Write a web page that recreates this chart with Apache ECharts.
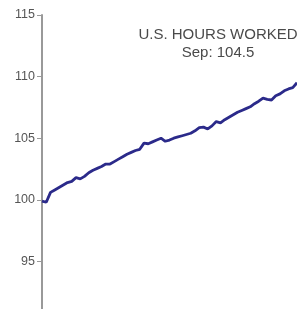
<!DOCTYPE html>
<html>
<head>
<meta charset="utf-8">
<script src="https://cdn.jsdelivr.net/npm/echarts@6/dist/echarts.min.js"></script>
<style>
  html, body { margin: 0; padding: 0; background: #fff; overflow: hidden; }
  /* taller than the window so the axis runs off the bottom like the original */
  #chart { width: 297px; height: 323px; }
</style>
</head>
<body>
<div id="chart"></div>
<script>
// index level (monthly)
const hoursIndex = [
  99.9, 99.8, 100.6, 100.8, 101.0, 101.2, 101.4, 101.5, 101.8, 101.7,
  101.9, 102.2, 102.4, 102.55, 102.7, 102.9, 102.9, 103.1, 103.3, 103.5,
  103.7, 103.85, 104.0, 104.1, 104.6, 104.55, 104.7, 104.85, 105.0, 104.75,
  104.85, 105.0, 105.1, 105.2, 105.3, 105.4, 105.6, 105.85, 105.9, 105.75,
  106.0, 106.35, 106.25, 106.5, 106.7, 106.9, 107.1, 107.25, 107.4, 107.55,
  107.8, 108.0, 108.25, 108.15, 108.1, 108.45, 108.6, 108.85, 109.0, 109.1,
  109.5
]
const months = hoursIndex.map((v, i) => 'M' + i)
const titleText = 'U.S. HOURS WORKED\nSep: 104.5'

const chart = echarts.init(document.getElementById('chart'))
chart.setOption({
  animation: false,
  backgroundColor: '#fff',
  title: {
    text: titleText,
    left: 213,
    top: 21,
    textAlign: 'center',
    textStyle: {
      fontFamily: 'Liberation Sans, Arial, sans-serif',
      fontSize: 15,
      fontWeight: 'normal',
      color: '#4a4a4a',
      lineHeight: 18
    }
  },
  grid: {
    left: 42,
    right: 0,
    top: 15,
    bottom: 0
  },
  xAxis: {
    type: 'category',
    data: months,
    boundaryGap: false,
    show: false
  },
  yAxis: {
    type: 'value',
    min: 90,
    max: 115,
    interval: 5,
    axisLine: { show: true, lineStyle: { color: '#999', width: 2 } },
    axisTick: { show: true, length: 5, lineStyle: { color: '#999', width: 1 } },
    splitLine: { show: false },
    axisLabel: {
      margin: 7,
      color: '#555',
      fontSize: 12.5,
      fontFamily: 'Liberation Sans, Arial, sans-serif',
      formatter: v => (v === 90 ? '' : String(v))
    }
  },
  series: [
    {
      type: 'line',
      data: hoursIndex,
      showSymbol: false,
      lineStyle: { color: '#2b2a8a', width: 2.8 }
    }
  ]
})
</script>
</body>
</html>
